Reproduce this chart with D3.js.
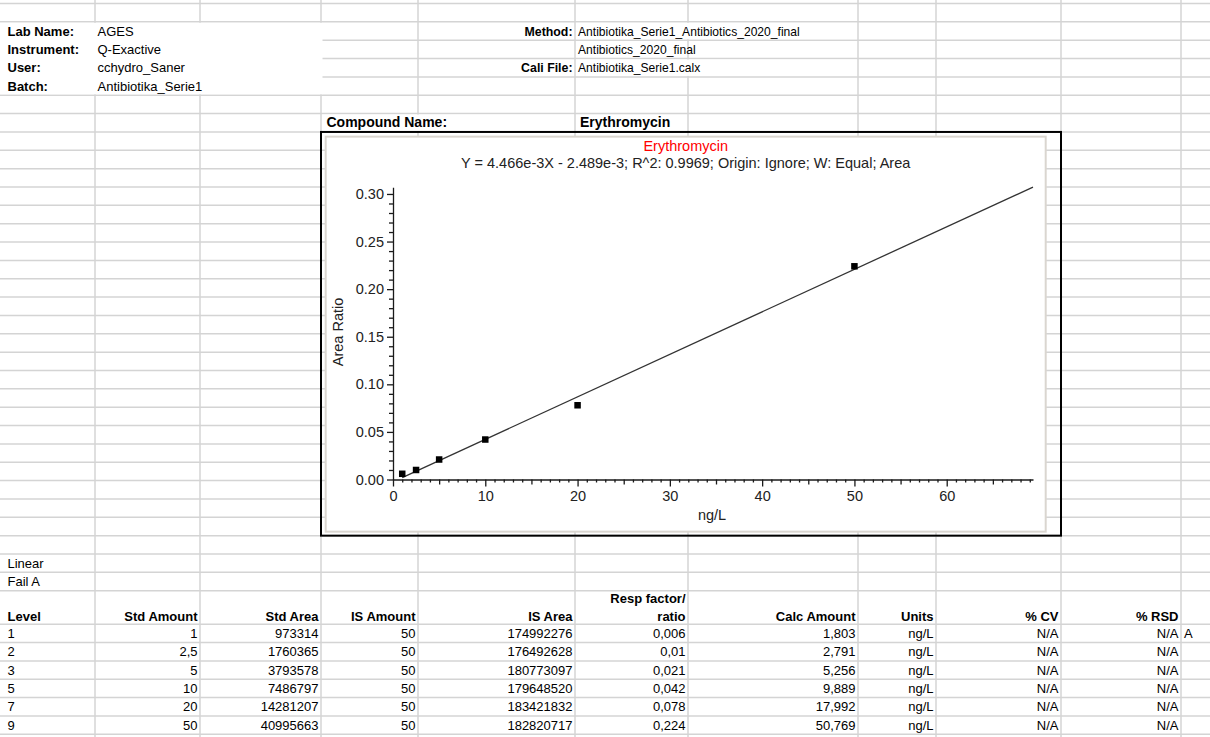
<!DOCTYPE html>
<html>
<head>
<meta charset="utf-8">
<script src="https://cdn.jsdelivr.net/npm/d3@7"></script>
<style>
  html, body { margin: 0; padding: 0; background: #fff; }
  svg { display: block; font-family: "Liberation Sans", Arial, sans-serif; }
</style>
</head>
<body>
<svg id="sheet" width="1210" height="737"></svg>
<script>
// ---- report header ----
const infoLabels = ["Lab Name:", "Instrument:", "User:", "Batch:"];
const infoValues = ["AGES", "Q-Exactive", "cchydro_Saner", "Antibiotika_Serie1"];
const methodLabels = ["Method:", "", "Cali File:"];
const methodValues = ["Antibiotika_Serie1_Antibiotics_2020_final", "Antibiotics_2020_final", "Antibiotika_Serie1.calx"];
const compoundName = "Erythromycin";
const curveType = "Linear";
const curveStatus = "Fail A";

// ---- calibration levels ----
const levels = [1, 2, 3, 5, 7, 9];
const stdAmount = [1, 2.5, 5, 10, 20, 50];
const stdArea = [973314, 1760365, 3793578, 7486797, 14281207, 40995663];
const isAmount = [50, 50, 50, 50, 50, 50];
const isArea = [174992276, 176492628, 180773097, 179648520, 183421832, 182820717];
const respRatio = [0.006, 0.01, 0.021, 0.042, 0.078, 0.224];
const calcAmount = [1.803, 2.791, 5.256, 9.889, 17.992, 50.769];
const units = ["ng/L", "ng/L", "ng/L", "ng/L", "ng/L", "ng/L"];
const pctCV = ["N/A", "N/A", "N/A", "N/A", "N/A", "N/A"];
const pctRSD = ["N/A", "N/A", "N/A", "N/A", "N/A", "N/A"];
const flags = ["A", "", "", "", "", ""];
const tableHeaders = ["Level", "Std Amount", "Std Area", "IS Amount", "IS Area",
  ["Resp factor/", "ratio"], "Calc Amount", "Units", "% CV", "% RSD"];

// ---- fitted curve ----
const slope = 4.466e-3;
const intercept = -2.489e-3;
const rSquared = 0.9969;
const yTicks = [0, 0.05, 0.10, 0.15, 0.20, 0.25, 0.30];
const xTicks = [0, 10, 20, 30, 40, 50, 60];
const xDomain = [0, 69.35];
const yDomain = [0, 0.307];

const svg = d3.select("#sheet");
const W = 1210, H = 737;
svg.append("rect").attr("width", W).attr("height", H).attr("fill", "#fff");

// ---- worksheet grid ----
const colX = [0, 95, 200, 321, 418, 575, 688, 858, 936, 1061, 1181, 1210];
const rowH = 18.35;
const rowY = [];
for (let k = 0; k <= 32; k++) rowY.push(3.5 + k * rowH);
rowY.push(rowY[32] + 33.5);
for (let k = 1; k <= 7; k++) rowY.push(rowY[33] + k * rowH);

const grid = svg.append("g").attr("stroke", "#d4d4d4").attr("stroke-width", 1.5);
grid.selectAll("line.h").data(rowY.filter(y => y < H)).join("line")
  .attr("class", "h").attr("x1", 0).attr("x2", W).attr("y1", d => d).attr("y2", d => d);
grid.selectAll("line.v").data(colX.slice(1, -1)).join("line")
  .attr("class", "v").attr("x1", d => d).attr("x2", d => d).attr("y1", 0).attr("y2", H);

// filled cells and overflowing text hide gridlines
const cover = (x0, x1, r0, r1) => svg.append("rect")
  .attr("x", x0).attr("width", x1 - x0)
  .attr("y", rowY[r0] + 1).attr("height", rowY[r1] - rowY[r0] - 2)
  .attr("fill", "#fff");
cover(0, 322.5, 1, 5);
cover(576, 857, 1, 2);
cover(576, 857, 3, 4);
cover(322, 574, 6, 7);

const txt = (x, y, s, opt = {}) => svg.append("text")
  .attr("transform", `translate(${x},${y})` + (opt.squeeze ? ` scale(${opt.squeeze},1)` : ""))
  .attr("font-size", opt.size || 13)
  .attr("font-weight", opt.bold ? "bold" : null)
  .attr("text-anchor", opt.anchor || "start")
  .attr("fill", opt.fill || "#000")
  .text(s);
const base = r => rowY[r + 1] - 4.5;

infoLabels.forEach((s, i) => txt(7.5, base(1 + i), s, { bold: true }));
infoValues.forEach((s, i) => txt(colX[1] + 2.5, base(1 + i), s));
methodLabels.forEach((s, i) => { if (s) txt(colX[5] - 2.5, base(1 + i), s, { bold: true, anchor: "end", squeeze: 0.95 }); });
methodValues.forEach((s, i) => txt(colX[5] + 3, base(1 + i), s, { squeeze: 0.93 }));

txt(colX[3] + 5.5, base(6), "Compound Name:", { bold: true, size: 14 });
txt(colX[5] + 5, base(6), compoundName, { bold: true, size: 14 });

txt(7.5, base(30), curveType);
txt(7.5, base(31), curveStatus);

// table header (two-line cell, bottom aligned)
tableHeaders.forEach((h, c) => {
  const x = c === 0 ? 7.5 : colX[c + 1] - 2.5;
  const anchor = c === 0 ? "start" : "end";
  const lines = Array.isArray(h) ? h : [h];
  lines.forEach((s, j) => txt(x, rowY[33] - 3.5 - (lines.length - 1 - j) * 18, s, { bold: true, anchor }));
});

const dec = v => String(v).replace(".", ",");
const columns = [levels, stdAmount.map(dec), stdArea, isAmount, isArea,
  respRatio.map(dec), calcAmount.map(dec), units, pctCV, pctRSD];
levels.forEach((_, i) => {
  const r = 33 + i;
  columns.forEach((col, c) => {
    const x = c === 0 ? 7.5 : colX[c + 1] - 2.5;
    txt(x, base(r), col[i], { anchor: c === 0 ? "start" : "end" });
  });
  if (flags[i]) txt(colX[10] + 3, base(r), flags[i]);
});

// ---- calibration chart ----
const boxTop = rowY[7], boxBottom = rowY[29];
svg.append("rect")
  .attr("x", 325.7).attr("y", boxTop + 4.7)
  .attr("width", 720).attr("height", boxBottom - boxTop - 8.7)
  .attr("fill", "#fff").attr("stroke", "#dad6d0").attr("stroke-width", 2);
svg.append("rect")
  .attr("x", colX[3]).attr("y", boxTop)
  .attr("width", colX[9] - colX[3]).attr("height", boxBottom - boxTop)
  .attr("fill", "none").attr("stroke", "#000").attr("stroke-width", 2);

const x = d3.scaleLinear().domain(xDomain).range([393, 1033]);
const y = d3.scaleLinear().domain(yDomain).range([479.5, 187.3]);
const chart = svg.append("g").attr("font-family", '"Liberation Sans", Arial, sans-serif');

const styleAxis = g => {
  g.attr("font-size", 14.5).attr("font-family", '"Liberation Sans", Arial, sans-serif');
  g.selectAll("path, line").attr("stroke", "#1a1a1a").attr("stroke-width", 1.3);
  g.selectAll("text").attr("fill", "#222");
};

// y axis: major ticks every 0.05, minor every 0.01
const yMinor = d3.range(0, 0.3001, 0.01).filter(v => Math.round(v * 100) % 5 !== 0);
chart.append("g").attr("transform", `translate(${x(0)},0)`)
  .call(d3.axisLeft(y).tickValues(yMinor).tickSize(4).tickFormat(""))
  .call(g => g.select(".domain").remove()).call(styleAxis);
chart.append("g").attr("transform", `translate(${x(0)},0)`)
  .call(d3.axisLeft(y).tickValues(yTicks).tickSize(6).tickSizeOuter(0).tickPadding(3).tickFormat(d3.format(".2f")))
  .call(styleAxis);

// x axis: major every 10, medium every 5, minor every 1
const xMid = xTicks.map(v => v + 5).filter(v => v < xDomain[1]);
const xMinor = d3.range(1, Math.floor(xDomain[1]) + 1).filter(v => v % 5 !== 0);
chart.append("g").attr("transform", `translate(0,${y(0)})`)
  .call(d3.axisBottom(x).tickValues(xMinor).tickSize(3).tickFormat(""))
  .call(g => g.select(".domain").remove()).call(styleAxis);
chart.append("g").attr("transform", `translate(0,${y(0)})`)
  .call(d3.axisBottom(x).tickValues(xMid).tickSize(5).tickFormat(""))
  .call(g => g.select(".domain").remove()).call(styleAxis);
chart.append("g").attr("transform", `translate(0,${y(0)})`)
  .call(d3.axisBottom(x).tickValues(xTicks).tickSize(7).tickSizeOuter(0).tickPadding(4).tickFormat(d3.format("d")))
  .call(styleAxis);

// regression line
const fit = v => slope * v + intercept;
const lineX = [stdAmount[0], xDomain[1]];
chart.append("path")
  .attr("d", d3.line().x(d => x(d)).y(d => y(fit(d)))(lineX))
  .attr("fill", "none").attr("stroke", "#333").attr("stroke-width", 1.3);

// calibration points
const sz = 6.5;
chart.selectAll("rect.pt").data(stdAmount).join("rect")
  .attr("class", "pt")
  .attr("x", (d) => x(d) - sz / 2)
  .attr("y", (d, i) => y(respRatio[i]) - sz / 2)
  .attr("width", sz).attr("height", sz).attr("fill", "#000");

// titles
const cx = 325.7 + 360;
const expo = v => { const e = Math.floor(Math.log10(Math.abs(v))); return (Math.abs(v) / 10 ** e).toFixed(3) + "e" + e; };
chart.append("text").attr("x", cx).attr("y", 151).attr("text-anchor", "middle")
  .attr("font-size", 14.5).attr("fill", "#ff0000").text(compoundName);
chart.append("text").attr("x", cx).attr("y", 167.5).attr("text-anchor", "middle")
  .attr("font-size", 14.5).attr("fill", "#222")
  .text(`Y = ${expo(slope)}X ${intercept < 0 ? "-" : "+"} ${expo(intercept)}; R^2: ${rSquared}; Origin: Ignore; W: Equal; Area`);
chart.append("text").attr("x", 712).attr("y", 520).attr("text-anchor", "middle")
  .attr("font-size", 14.5).attr("fill", "#222").text("ng/L");
chart.append("text").attr("transform", "translate(343,332) rotate(-90)").attr("text-anchor", "middle")
  .attr("font-size", 14.5).attr("fill", "#222").text("Area Ratio");
</script>
</body>
</html>
